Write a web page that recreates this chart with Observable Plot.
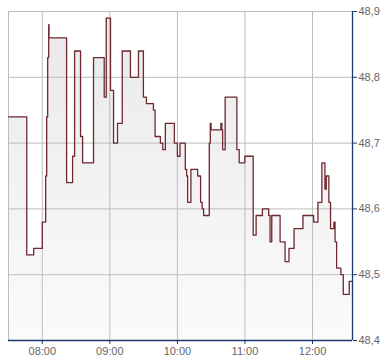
<!DOCTYPE html>
<html><head><meta charset="utf-8">
<script src="https://cdn.jsdelivr.net/npm/d3@7"></script>
<script src="https://cdn.jsdelivr.net/npm/@observablehq/plot@0.6"></script>
<style>body{margin:0;background:#fff}</style>
</head><body><div id="chart"></div>
<script>
const times = ["07:30:00","07:46:12","07:52:24","08:00:00","08:03:00","08:03:54","08:04:48","08:05:42","08:06:00","08:21:36","08:26:54","08:28:42","08:34:00","08:35:48","08:45:30","08:55:00","08:56:48","09:00:36","09:03:18","09:06:48","09:11:00","09:18:18","09:25:24","09:29:48","09:32:30","09:38:42","09:40:12","09:44:54","09:47:00","09:49:18","09:57:18","10:00:00","10:02:18","10:07:00","10:08:12","10:09:06","10:12:00","10:18:00","10:20:36","10:22:00","10:23:18","10:28:18","10:29:12","10:29:54","10:38:36","10:39:30","10:40:12","10:42:24","10:52:48","10:54:54","10:59:54","11:07:18","11:09:54","11:15:30","11:21:06","11:22:18","11:23:48","11:31:12","11:35:36","11:39:06","11:43:36","11:51:30","12:01:00","12:04:48","12:08:18","12:11:00","12:12:12","12:14:30","12:16:00","12:19:00","12:20:00","12:21:24","12:25:12","12:27:18","12:32:36","12:35:30"];
const prices = [48.74,48.53,48.54,48.58,48.65,48.74,48.83,48.88,48.86,48.64,48.68,48.84,48.71,48.67,48.83,48.77,48.89,48.78,48.70,48.73,48.84,48.80,48.84,48.77,48.76,48.75,48.71,48.70,48.69,48.73,48.70,48.68,48.70,48.66,48.65,48.61,48.66,48.65,48.61,48.60,48.59,48.70,48.73,48.72,48.73,48.72,48.69,48.77,48.69,48.67,48.68,48.56,48.59,48.60,48.59,48.55,48.59,48.55,48.52,48.54,48.57,48.59,48.58,48.61,48.67,48.63,48.65,48.61,48.57,48.58,48.55,48.51,48.50,48.47,48.49,48.49];
const yTicks = [48.4,48.5,48.6,48.7,48.8,48.9];
const xTickLabels = ["08:00","09:00","10:00","11:00","12:00"];
const xStart = "07:30:00", xEnd = "12:35:30";

const toDate = s => new Date("2000-01-01T" + (s.length === 5 ? s + ":00" : s) + "Z");
const data = times.map((t, i) => ({t: toDate(t), v: prices[i]}));
const xTicks = xTickLabels.map(toDate);
const fmtY = d => d.toFixed(1).replace(".", ",");

const defs = () => {
  const d = d3.create("svg:defs");
  const g = d.append("linearGradient").attr("id", "areaGrad").attr("x1", 0).attr("y1", 0).attr("x2", 0).attr("y2", 1);
  g.append("stop").attr("offset", "0%").attr("stop-color", "#e9e9e9");
  g.append("stop").attr("offset", "100%").attr("stop-color", "#fbfbfb");
  return d.node();
};

const navy = "#1d3a6e";
const chart = Plot.plot({
  width: 390, height: 364,
  marginTop: 11, marginLeft: 8, marginRight: 38, marginBottom: 24,
  style: {fontFamily: "'Liberation Sans', Arial, sans-serif", fontSize: "11px", background: "#fff"},
  x: {type: "utc", domain: [toDate(xStart), toDate(xEnd)]},
  y: {domain: [48.4, 48.9]},
  marks: [
    defs,
    Plot.areaY(data, {x: "t", y1: 48.4, y2: "v", curve: "step-after", fill: "url(#areaGrad)"}),
    Plot.ruleX(xTicks, {stroke: "#bdbdbd", strokeWidth: 1}),
    Plot.ruleY(yTicks, {stroke: "#bdbdbd", strokeWidth: 1}),
    Plot.ruleX([toDate(xStart)], {stroke: "#bdbdbd", strokeWidth: 1}),
    Plot.lineY(data, {x: "t", y: "v", curve: "step-after", stroke: "#6e2830", strokeWidth: 1.3}),
    Plot.ruleX([toDate(xEnd)], {stroke: navy, strokeWidth: 1.3}),
    Plot.ruleY([48.4], {stroke: navy, strokeWidth: 1.3}),
    Plot.axisY(yTicks, {anchor: "right", tickSize: 4, tickPadding: 2, stroke: navy, fill: "#666", tickFormat: fmtY, label: null}),
    Plot.axisX(xTicks, {anchor: "bottom", tickSize: 4, tickPadding: 3, stroke: navy, fill: "#666", tickFormat: d3.utcFormat("%H:%M"), label: null})
  ]
});
document.getElementById("chart").appendChild(chart);
</script>
</body></html>
